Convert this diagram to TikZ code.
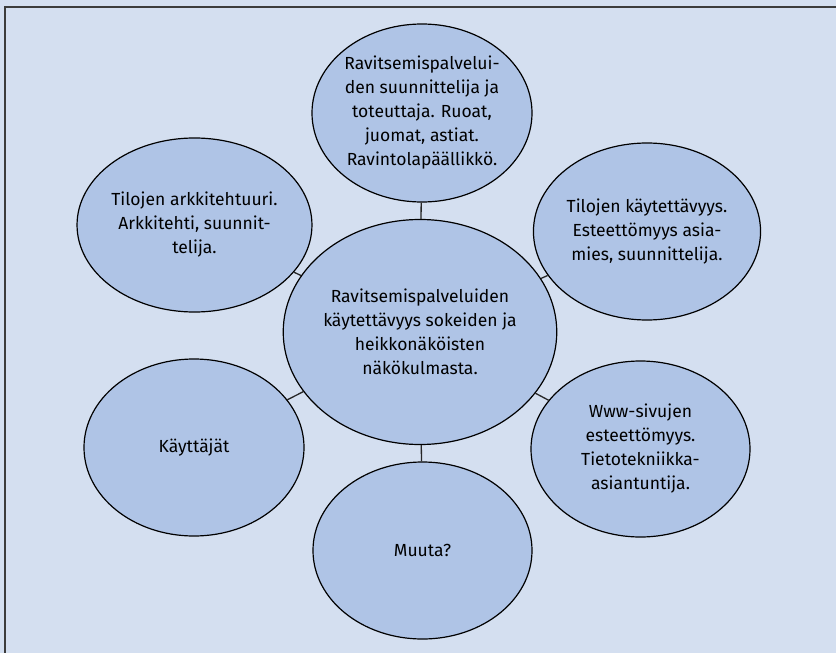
\documentclass[tikz,border=0pt]{standalone}
\usepackage{fontspec}
\setmainfont{Fira Sans}
\usetikzlibrary{shapes.geometric}
\definecolor{bgblue}{HTML}{D4DFF0}
\definecolor{bubblefill}{HTML}{AFC4E6}
\definecolor{framegray}{HTML}{3C3C3C}
\begin{document}
\begin{tikzpicture}[x=1pt,y=-1pt,
  bubble/.style={ellipse, draw=black, line width=1.2pt, fill=bubblefill,
    inner sep=0pt, align=center, text=black,
    font=\fontsize{17.5}{24}\selectfont},
  link/.style={draw=black!85, line width=1.3pt}]
% page background and frame
\fill[bgblue] (0,0) rectangle (836,653);
\useasboundingbox (0,0) rectangle (836,653);
\draw[framegray, line width=2pt] (4.5,653) -- (4.5,6.5) -- (836,6.5);

% central topic
\node[bubble, minimum width=270pt, minimum height=225pt] (hub) at (420,332)
  {Ravitsemispalveluiden\\käytettävyys sokeiden ja\\heikkonäköisten\\näkökulmasta.};

% surrounding topics
\node[bubble, minimum width=220pt, minimum height=178pt] (food) at (422,113)
  {Ravitsemispalvelui-\\den suunnittelija ja\\toteuttaja. Ruoat,\\juomat, astiat.\\Ravintolapäällikkö.};
\node[bubble, minimum width=219pt, minimum height=174pt] (arch) at (194.5,225)
  {Tilojen arkkitehtuuri.\\Arkkitehti, suunnit-\\telija.};
\node[bubble, minimum width=220pt, minimum height=177pt] (space) at (647,231.5)
  {Tilojen käytettävyys.\\Esteettömyys asia-\\mies, suunnittelija.};
\node[bubble, minimum width=220pt, minimum height=177pt] (users) at (194,447.5)
  {Käyttäjät};
\node[bubble, minimum width=219pt, minimum height=176pt] (web) at (640.5,449)
  {Www-sivujen\\esteettömyys.\\Tietotekniikka-\\asiantuntija.};
\node[bubble, minimum width=219pt, minimum height=177pt] (other) at (422.5,550.5)
  {Muuta?};

% connectors from the centre
\foreach \n in {food,arch,space,users,web,other}
  \draw[link] (hub) -- (\n);
\end{tikzpicture}
\end{document}
